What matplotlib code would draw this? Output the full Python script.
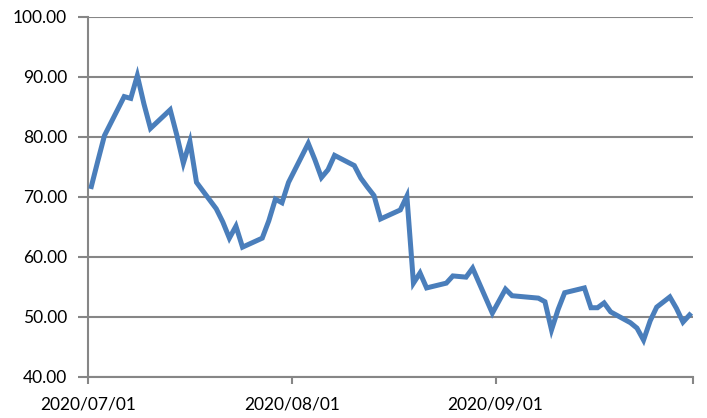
import matplotlib.pyplot as plt
import matplotlib.dates as mdates
import numpy as np
import pandas as pd

# daily values
dates = ['2020-07-01', '2020-07-02', '2020-07-03', '2020-07-06', '2020-07-07',
         '2020-07-08', '2020-07-09', '2020-07-10', '2020-07-13', '2020-07-14',
         '2020-07-15', '2020-07-16', '2020-07-17', '2020-07-20', '2020-07-21',
         '2020-07-22', '2020-07-23', '2020-07-24', '2020-07-27', '2020-07-28',
         '2020-07-29', '2020-07-30', '2020-07-31', '2020-08-03', '2020-08-04',
         '2020-08-05', '2020-08-06', '2020-08-07', '2020-08-10', '2020-08-11',
         '2020-08-12', '2020-08-13', '2020-08-14', '2020-08-17', '2020-08-18',
         '2020-08-19', '2020-08-20', '2020-08-21', '2020-08-24', '2020-08-25',
         '2020-08-26', '2020-08-27', '2020-08-28', '2020-08-31', '2020-09-01',
         '2020-09-02', '2020-09-03', '2020-09-04', '2020-09-07', '2020-09-08',
         '2020-09-09', '2020-09-10', '2020-09-11', '2020-09-14', '2020-09-15',
         '2020-09-16', '2020-09-17', '2020-09-18', '2020-09-21', '2020-09-22',
         '2020-09-23', '2020-09-24', '2020-09-25', '2020-09-27', '2020-09-28',
         '2020-09-29', '2020-09-30']
values = [71.7, 76.0, 80.2, 86.7, 86.4,
          90.2, 85.5, 81.4, 84.5, 80.3,
          75.6, 79.2, 72.4, 68.0, 65.8,
          63.1, 65.1, 61.6, 63.1, 66.0,
          69.6, 69.0, 72.4, 78.9, 76.2,
          73.2, 74.5, 76.9, 75.2, 73.1,
          71.6, 70.2, 66.3, 67.8, 70.1,
          55.6, 57.3, 54.8, 55.6, 56.8,
          56.7, 56.6, 58.1, 50.6, 52.6,
          54.6, 53.5, 53.4, 53.1, 52.5,
          47.8, 51.2, 54.0, 54.8, 51.5,
          51.5, 52.3, 50.8, 49.0, 48.1,
          46.1, 49.3, 51.6, 53.3, 51.4,
          49.1, 50.3]

tick_dates = ['2020-07-01', '2020-08-01', '2020-09-01', '2020-10-01']
tick_labels = ['2020/07/01', '2020/08/01', '2020/09/01', '']

x = pd.to_datetime(dates) + pd.Timedelta(hours=12)
grid_col = '#868686'

plt.rcParams['font.family'] = ['Lato', 'DejaVu Sans']

fig = plt.figure(figsize=(7.07, 4.18), dpi=100)
ax = fig.add_axes([0.1245, 0.0988, 0.8555, 0.861])

ax.plot(x, values, color='#4a7ebb', linewidth=3.6, solid_joinstyle='miter', zorder=3)

ax.set_ylim(40, 100)
ax.set_yticks(np.arange(40, 101, 10))
ax.yaxis.set_major_formatter(plt.FormatStrFormatter('%.2f'))
ax.grid(axis='y', color=grid_col, linewidth=1.5)
ax.set_xlim(pd.Timestamp('2020-07-01'), pd.Timestamp('2020-10-01'))
ax.set_xticks(pd.to_datetime(tick_dates))
ax.set_xticklabels(tick_labels)

for s in ['top', 'right']:
    ax.spines[s].set_visible(False)
for s in ['left', 'bottom']:
    ax.spines[s].set_color(grid_col)
    ax.spines[s].set_linewidth(1.5)

ax.tick_params(axis='y', length=7, width=1.5, color=grid_col, labelsize=12.5, pad=8)
ax.tick_params(axis='x', length=5, width=1.5, color=grid_col, labelsize=12.5, pad=9)

fig.savefig('out.png', dpi=100)
